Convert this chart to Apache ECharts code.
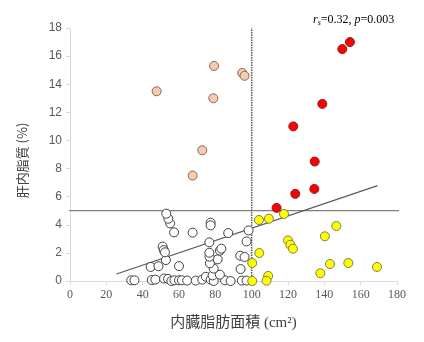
<!DOCTYPE html>
<html>
<head>
<meta charset="utf-8">
<script src="https://cdn.jsdelivr.net/npm/echarts@6/dist/echarts.min.js"></script>
<style>
  html, body { margin: 0; padding: 0; background: #fff; }
  #chart { width: 424px; height: 342px; }
</style>
</head>
<body>
<div id="chart"></div>
<script>
// Visceral fat area (cm²) vs. liver fat (%), grouped by quadrant
const lowVfaLowFat = [
  [33.7, 0.05], [35.5, 0.05], [45.0, 0.07], [47.0, 0.1], [51.8, 0.18], [54.0, 0.15],
  [55.8, 0.0], [57.5, 0.05], [60.0, 0.05], [61.6, 0.05], [64.5, 0.03], [69.2, 0.03],
  [72.8, 0.1], [74.8, 0.3], [77.4, 0.1], [79.1, 0.0], [85.3, 0.05], [88.4, 0.0],
  [94.6, 0.03], [97.2, 0.03], [78.5, 0.4], [82.5, 0.45], [79.1, 0.88], [93.9, 0.85],
  [44.4, 1.0], [48.7, 1.05], [60.0, 1.06], [77.0, 1.26], [52.8, 1.49], [81.3, 1.54],
  [76.8, 1.73], [93.7, 1.8], [96.1, 1.71], [76.7, 2.01], [82.5, 2.16], [83.3, 2.3],
  [51.0, 2.45], [51.6, 2.2], [52.3, 2.04], [76.7, 2.75], [97.2, 2.82], [67.5, 3.44],
  [87.1, 3.41], [98.3, 3.6], [57.3, 3.46], [55.1, 4.1], [54.1, 4.43], [53.0, 4.79],
  [77.4, 4.15], [77.4, 3.96]
];
const lowVfaHighFat = [
  [47.7, 13.5], [79.3, 15.3], [94.8, 14.8], [96.1, 14.6], [78.9, 13.0], [72.8, 9.3], [67.5, 7.5]
];
const highVfaLowFat = [
  [104.0, 4.34], [109.5, 4.43], [117.8, 4.77], [146.6, 3.91], [140.3, 3.18], [120.0, 2.89],
  [121.3, 2.58], [122.7, 2.3], [104.2, 1.99], [100.3, 1.28], [143.1, 1.21], [153.2, 1.28],
  [169.0, 1.0], [137.8, 0.55], [109.1, 0.36], [108.2, 0.02], [100.3, 0.0]
];
const highVfaHighFat = [
  [154.1, 17.0], [149.9, 16.5], [138.9, 12.6], [122.9, 11.0], [134.7, 8.5], [134.5, 6.55],
  [124.0, 6.2], [113.7, 5.2]
];

// reference lines: fatty-liver cutoff, VFA cutoff, fitted trend
const fatCutoff = [[-2, 5], [185, 5]];
const vfaCutoff = [[100, 0], [100, 18]];
const trendLine = [[25.6, 0.5], [169.3, 6.78]];

const xTicks = { min: 0, max: 180, interval: 20 };
const yTicks = { min: 0, max: 18, interval: 2 };

const chart = echarts.init(document.getElementById('chart'));

function pointSeries(data, fill, border) {
  return {
    type: 'scatter', data: data, symbol: 'circle', symbolSize: 9, z: 5,
    itemStyle: { color: fill, borderColor: border, borderWidth: 1, opacity: 1 }
  };
}

function lineSeries(data, style) {
  return {
    type: 'line', data: data, symbol: 'none', clip: false, z: 2, silent: true,
    lineStyle: style
  };
}

chart.setOption({
  animation: false,
  backgroundColor: '#ffffff',
  grid: { left: 70, right: 27, top: 28, bottom: 61 },
  xAxis: {
    type: 'value', min: xTicks.min, max: xTicks.max, interval: xTicks.interval,
    name: '内臓脂肪面積 (cm²)', nameLocation: 'middle', nameGap: 35,
    nameTextStyle: { fontFamily: 'Liberation Serif, Noto Sans CJK JP', fontSize: 15, color: '#404040' },
    axisLine: { show: true, lineStyle: { color: '#d9d9d9', width: 1 } },
    axisTick: { show: true, length: 4, lineStyle: { color: '#d9d9d9' } },
    axisLabel: { fontFamily: 'Liberation Serif', fontSize: 12, color: '#595959', margin: 8 },
    splitLine: { show: false }
  },
  yAxis: {
    type: 'value', min: yTicks.min, max: yTicks.max, interval: yTicks.interval,
    name: '肝内脂質 (%)', nameLocation: 'middle', nameGap: 41, nameRotate: 90,
    nameTextStyle: { fontFamily: 'Noto Sans CJK JP', fontSize: 13, color: '#404040', padding: [0, 12, 0, 0] },
    axisLine: { show: true, lineStyle: { color: '#d9d9d9', width: 1 } },
    axisTick: { show: true, length: 4, lineStyle: { color: '#d9d9d9' } },
    axisLabel: { fontFamily: 'Liberation Sans', fontSize: 12, color: '#595959', margin: 8 },
    splitLine: { show: false }
  },
  graphic: [{
    type: 'text', left: 313, top: 14, z: 10,
    style: {
      text: '{i|r}{s|s}{n|=0.32, }{i|p}{n|=0.003}',
      rich: {
        i: { fontFamily: 'Liberation Serif', fontStyle: 'italic', fontSize: 12, fill: '#000' },
        s: { fontFamily: 'Liberation Serif', fontStyle: 'italic', fontSize: 8, fill: '#000', padding: [6, 0, 0, 0] },
        n: { fontFamily: 'Liberation Serif', fontSize: 12, fill: '#000' }
      }
    }
  }],
  series: [
    lineSeries(fatCutoff, { color: '#7f7f7f', width: 1.25 }),
    lineSeries(vfaCutoff, { color: '#595959', width: 1.5, type: [1.5, 1] }),
    lineSeries(trendLine, { color: '#595959', width: 1.25 }),
    pointSeries(lowVfaLowFat, '#ffffff', '#404040'),
    pointSeries(lowVfaHighFat, '#f8cbad', '#7f6a5e'),
    pointSeries(highVfaLowFat, '#ffff00', '#7f7f3f'),
    pointSeries(highVfaHighFat, '#ff0000', '#8b2020')
  ]
});
</script>
</body>
</html>
